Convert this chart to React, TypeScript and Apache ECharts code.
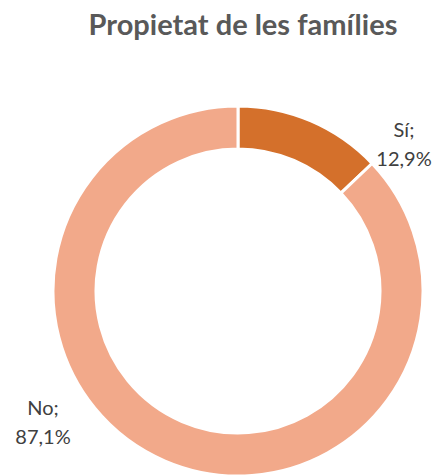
import React, { useEffect, useRef } from "react";
import * as echarts from "echarts";

const titleText = "Propietat de les famílies";
const categories = ["Sí", "No"];
const values = [12.9, 87.1];
const colors = ["#D4702B", "#F2A98A"];
const labelCenters = [
  [404, 143],
  [43, 421],
];

export default function App() {
  const ref = useRef<HTMLDivElement>(null);
  useEffect(() => {
    if (!ref.current) return;
    const chart = echarts.init(ref.current, null, { renderer: "svg" });
    chart.setOption({
      animation: false,
      backgroundColor: "#ffffff",
      title: {
        text: titleText,
        left: 238,
        top: 4,
        textAlign: "center",
        textStyle: {
          fontFamily: "Lato",
          fontWeight: "bold",
          fontSize: 29,
          color: "#595959",
        },
      },
      series: [
        {
          type: "pie",
          center: [238, 291],
          radius: [142, 185],
          startAngle: 90,
          clockwise: true,
          silent: true,
          itemStyle: { borderColor: "#ffffff", borderWidth: 3 },
          label: {
            show: true,
            position: "outside",
            fontFamily: "Lato",
            fontSize: 20,
            lineHeight: 29,
            color: "#404040",
            align: "center",
            formatter: (p: any) =>
              p.name + ";\n" + p.value.toFixed(1).replace(".", ",") + "%",
          },
          labelLine: { show: false },
          labelLayout: (params: any) => ({
            x: labelCenters[params.dataIndex][0],
            y: labelCenters[params.dataIndex][1],
            align: "center",
            verticalAlign: "middle",
          }),
          data: categories.map((c, i) => ({
            name: c,
            value: values[i],
            itemStyle: { color: colors[i] },
          })),
        },
      ],
    });
    return () => chart.dispose();
  }, []);
  return (
    <div
      ref={ref}
      style={{ position: "absolute", left: 0, top: 0, width: 436, height: 476 }}
    />
  );
}
